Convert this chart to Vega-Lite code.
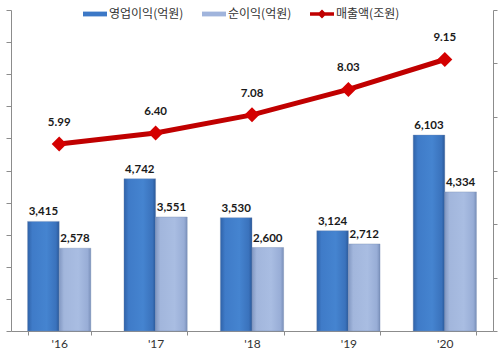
{
  "$schema": "https://vega.github.io/schema/vega-lite/v6.json",
  "width": 482,
  "height": 321,
  "autosize": {"type": "none"},
  "padding": {"left": 11, "top": 10, "right": 7, "bottom": 22},
  "background": "white",
  "config": {"view": {"stroke": null}, "axis": {"grid": false}},
  "datasets": {
    "profit": [
      {"year": "'16", "series": "영업이익(억원)", "value": 3415},
      {"year": "'16", "series": "순이익(억원)", "value": 2578},
      {"year": "'17", "series": "영업이익(억원)", "value": 4742},
      {"year": "'17", "series": "순이익(억원)", "value": 3551},
      {"year": "'18", "series": "영업이익(억원)", "value": 3530},
      {"year": "'18", "series": "순이익(억원)", "value": 2600},
      {"year": "'19", "series": "영업이익(억원)", "value": 3124},
      {"year": "'19", "series": "순이익(억원)", "value": 2712},
      {"year": "'20", "series": "영업이익(억원)", "value": 6103},
      {"year": "'20", "series": "순이익(억원)", "value": 4334}
    ],
    "sales": [
      {"year": "'16", "series": "매출액(조원)", "value": 5.99},
      {"year": "'17", "series": "매출액(조원)", "value": 6.40},
      {"year": "'18", "series": "매출액(조원)", "value": 7.08},
      {"year": "'19", "series": "매출액(조원)", "value": 8.03},
      {"year": "'20", "series": "매출액(조원)", "value": 9.15}
    ]
  },
  "encoding": {
    "x": {
      "field": "year", "type": "nominal", "sort": null,
      "scale": {"paddingInner": 0.344, "paddingOuter": 0.172},
      "axis": {
        "title": null, "labelAngle": 0, "domainColor": "#8c8c8c", "tickColor": "#8c8c8c",
        "tickSize": 4, "tickBand": "extent", "labelFont": "Lato", "labelFontSize": 12,
        "labelColor": "#333333", "labelPadding": 3
      }
    }
  },
  "layer": [
    {
      "data": {"name": "profit"},
      "encoding": {
        "y": {
          "field": "value", "type": "quantitative",
          "scale": {"domain": [0, 10000], "nice": false},
          "axis": {
            "orient": "left", "title": null, "labels": false,
            "values": [0, 1000, 2000, 3000, 4000, 5000, 6000, 7000, 8000, 9000, 10000],
            "domainColor": "#8c8c8c", "tickColor": "#8c8c8c", "tickSize": 5
          }
        },
        "xOffset": {"field": "series", "type": "nominal", "sort": ["영업이익(억원)", "순이익(억원)"], "scale": {"paddingInner": 0, "paddingOuter": 0}}
      },
      "layer": [
        {
          "mark": {"type": "bar", "stroke": "#6f86ad", "strokeWidth": 0.6, "strokeOpacity": 0.6},
          "encoding": {
            "fill": {
              "condition": {
                "test": "datum.series === '영업이익(억원)'",
                "value": {"gradient": "linear", "x1": 0, "y1": 0, "x2": 1, "y2": 0,
                  "stops": [{"offset": 0, "color": "#2f62a8"}, {"offset": 0.15, "color": "#3f7bc8"}, {"offset": 0.6, "color": "#4584d0"}, {"offset": 0.9, "color": "#3a72bc"}, {"offset": 1, "color": "#2a5898"}]}
              },
              "value": {"gradient": "linear", "x1": 0, "y1": 0, "x2": 1, "y2": 0,
                "stops": [{"offset": 0, "color": "#8298c2"}, {"offset": 0.15, "color": "#a2b6dc"}, {"offset": 0.6, "color": "#a9bde2"}, {"offset": 0.9, "color": "#98add6"}, {"offset": 1, "color": "#7a90ba"}]}
            }
          }
        },
        {
          "mark": {"type": "text", "dy": -9, "font": "Lato", "fontWeight": "bold", "fontSize": 11.5, "color": "#1a1a1a"},
          "encoding": {"text": {"field": "value", "type": "quantitative", "format": ","}}
        }
      ]
    },
    {
      "data": {"name": "sales"},
      "encoding": {
        "y": {
          "field": "value", "type": "quantitative",
          "scale": {"domain": [-1, 11], "nice": false},
          "axis": {
            "orient": "right", "title": null, "labels": false,
            "values": [-1, 1, 3, 5, 7, 9, 11],
            "domainColor": "#8c8c8c", "tickColor": "#8c8c8c", "tickSize": 4
          }
        }
      },
      "layer": [
        {
          "mark": {"type": "line", "strokeWidth": 5},
          "encoding": {
            "color": {
              "field": "series", "type": "nominal",
              "scale": {"domain": ["영업이익(억원)", "순이익(억원)", "매출액(조원)"], "range": ["#3c78c6", "#a0b4dc", "#c00000"]},
              "legend": {
                "orient": "none", "legendX": 72, "legendY": -8, "direction": "horizontal",
                "title": null, "labelFont": "Noto Sans CJK KR", "labelFontSize": 12, "labelColor": "#333333",
                "symbolSize": 576, "columnPadding": 18, "labelOffset": 2, "padding": 0,
                "encode": {
                  "symbols": {
                    "update": {
                      "shape": {"signal": "datum.value === '매출액(조원)' ? 'M-1,-0.14H1V0.14H-1Z M0,-0.38L0.38,0L0,0.38L-0.38,0Z' : 'M-1,-0.2H1V0.2H-1Z'"},
                      "fill": {"scale": "color", "field": "value"},
                      "strokeWidth": {"value": 0},
                      "opacity": {"value": 1}
                    }
                  }
                }
              }
            }
          }
        },
        {
          "mark": {"type": "point", "shape": "diamond", "filled": true, "size": 225, "opacity": 1, "fill": "#d40000"},
          "encoding": {"color": {"field": "series", "type": "nominal"}}
        },
        {
          "mark": {"type": "text", "dy": -21, "font": "Lato", "fontWeight": "bold", "fontSize": 11.5, "color": "#1a1a1a"},
          "encoding": {"text": {"field": "value", "type": "quantitative", "format": ".2f"}}
        }
      ]
    }
  ],
  "resolve": {"scale": {"y": "independent"}}
}
